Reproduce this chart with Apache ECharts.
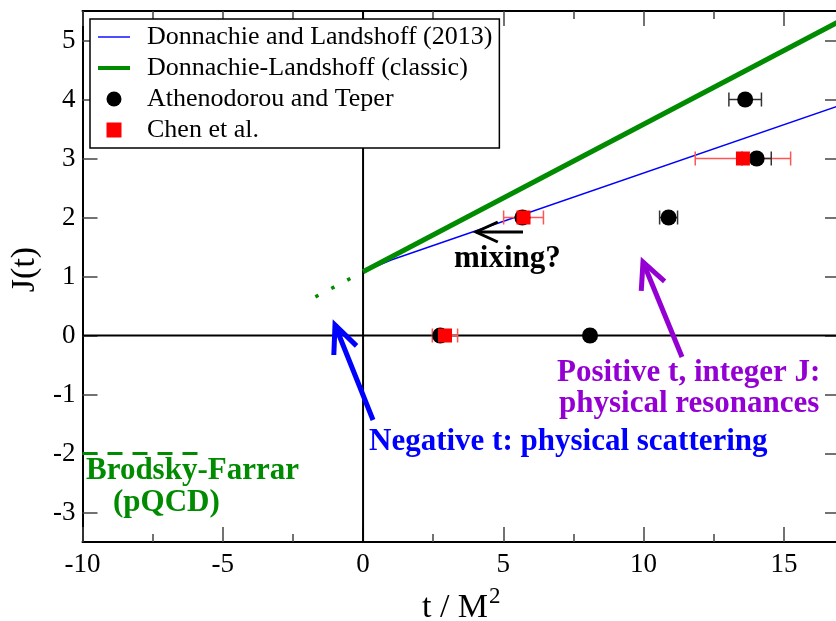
<!DOCTYPE html>
<html>
<head>
<meta charset="utf-8">
<script src="https://cdn.jsdelivr.net/npm/echarts@6/dist/echarts.min.js"></script>
<style>
  html, body { margin: 0; padding: 0; background: #fff; }
  #main { width: 836px; height: 621px; }
</style>
</head>
<body>
<div id="main"></div>
<script>
// axis ticks
const xMajor = [-10, -5, 0, 5, 10, 15];
const xMinor = [-7.5, -2.5, 2.5, 7.5, 12.5];
const yMajor = [-3, -2, -1, 0, 1, 2, 3, 4, 5];

// Donnachie and Landshoff (2013)
const tDL2013 = [0, 1, 17];
const jDL2013 = [1.08, 1.28, 3.9];
// Donnachie-Landshoff (classic) and its extension to t < 0
const tDLclassic = [0, 17];
const jDLclassic = [1.08, 5.33];
const tDLext = [-1.7, 0];
const jDLext = [0.655, 1.08];
// Brodsky-Farrar pQCD
const tBF = [-10, -5.9];
const jBF = [-2, -2];

// Athenodorou and Teper
const tAT = [2.75, 5.68, 8.09, 10.89, 14.03, 13.62];
const jAT = [0, 2, 0, 2, 3, 4];
const eAT = [0.1, 0.1, 0.1, 0.32, 0.52, 0.58];
// Chen et al.
const tChen = [2.92, 5.72, 13.54];
const jChen = [0, 2, 3];
const eChen = [0.45, 0.71, 1.70];

const GREEN = '#008b00';
const FONT = 'Liberation Serif';

const pairs = (xs, ys) => xs.map((x, i) => [x, ys[i]]);
const triples = (xs, ys, es) => xs.map((x, i) => [x, ys[i], es[i]]);

function errorBars(color) {
  return function (params, api) {
    const c = api.coord([api.value(0), api.value(1)]);
    const l = api.coord([api.value(0) - api.value(2), api.value(1)]);
    const r = api.coord([api.value(0) + api.value(2), api.value(1)]);
    const st = { stroke: color, lineWidth: 1.5 };
    return {
      type: 'group',
      children: [
        { type: 'line', shape: { x1: l[0], y1: c[1], x2: r[0], y2: c[1] }, style: st },
        { type: 'line', shape: { x1: l[0], y1: c[1] - 7, x2: l[0], y2: c[1] + 7 }, style: st },
        { type: 'line', shape: { x1: r[0], y1: c[1] - 7, x2: r[0], y2: c[1] + 7 }, style: st }
      ]
    };
  };
}

function arrow(x1, y1, x2, y2, len, half, color, w) {
  const a = Math.atan2(y2 - y1, x2 - x1);
  const h1 = [x2 - len * Math.cos(a - half), y2 - len * Math.sin(a - half)];
  const h2 = [x2 - len * Math.cos(a + half), y2 - len * Math.sin(a + half)];
  return [
    { type: 'line', z: 10, shape: { x1: x1, y1: y1, x2: x2, y2: y2 }, style: { stroke: color, lineWidth: w } },
    { type: 'polyline', z: 10, shape: { points: [h1, [x2, y2], h2] }, style: { stroke: color, lineWidth: w, fill: null } }
  ];
}

function label(text, x, baseline, color, fs) {
  return {
    type: 'text', z: 10, x: x, y: baseline - 0.25 * fs,
    style: { text: text, fill: color, font: 'bold ' + fs + 'px "' + FONT + '"', verticalAlign: 'middle', align: 'left' }
  };
}

const chart = echarts.init(document.getElementById('main'));

const xBase = { type: 'value', min: -10, max: 17, gridIndex: 0, splitLine: { show: false } };
const yBase = { type: 'value', min: -3.5, max: 5.5, gridIndex: 0, splitLine: { show: false } };
const majorTick = { show: true, inside: true, length: 15, lineStyle: { color: '#444', width: 1.5 } };
const minorTick = { show: true, inside: true, length: 8, lineStyle: { color: '#444', width: 1.5 } };
const frame = { show: true, onZero: false, lineStyle: { color: '#000', width: 2 } };
const noLine = { show: false, onZero: false };

const option = {
  animation: false,
  backgroundColor: '#fff',
  grid: { left: 82.5, top: 11, right: -4, bottom: 79, outerBoundsMode: 'none', containLabel: false },
  legend: {
    orient: 'vertical', left: 90, top: 19,
    data: [
      { name: 'Donnachie and Landshoff (2013)', icon: 'path://M0,0H32V1.4H0Z' },
      { name: 'Donnachie-Landshoff (classic)', icon: 'path://M0,0H32V4H0Z' },
      { name: 'Athenodorou and Teper', icon: 'circle' },
      { name: 'Chen et al.', icon: 'path://M0,0H10V10H0Z' }
    ],
    selectedMode: false,
    backgroundColor: '#fff', borderColor: '#000', borderWidth: 1.5,
    padding: [5, 7, 5, 8], itemGap: 5, itemWidth: 32, itemHeight: 15,
    textStyle: { fontFamily: FONT, fontSize: 26, color: '#000', padding: [0, 0, 0, 12] }
  },
  xAxis: [
    Object.assign({}, xBase, {
      position: 'bottom', axisLine: frame,
      axisTick: Object.assign({ customValues: xMajor }, majorTick),
      axisLabel: { customValues: xMajor, fontFamily: FONT, fontSize: 27, color: '#000', margin: 9 },
      name: '{a|t / M}{s|2}', nameLocation: 'middle', nameGap: 43,
      nameTextStyle: { rich: {
        a: { fontFamily: FONT, fontSize: 34, color: '#000' },
        s: { fontFamily: FONT, fontSize: 23, color: '#000', verticalAlign: 'top', padding: [0, 0, 24, 1] }
      } }
    }),
    Object.assign({}, xBase, {
      position: 'bottom', axisLine: noLine,
      axisTick: Object.assign({ customValues: xMinor }, minorTick), axisLabel: { show: false }
    }),
    Object.assign({}, xBase, {
      position: 'top', axisLine: frame,
      axisTick: Object.assign({ customValues: xMajor }, majorTick), axisLabel: { show: false }
    }),
    Object.assign({}, xBase, {
      position: 'top', axisLine: noLine,
      axisTick: Object.assign({ customValues: xMinor }, minorTick), axisLabel: { show: false }
    })
  ],
  yAxis: [
    Object.assign({}, yBase, {
      position: 'left', axisLine: frame,
      axisTick: Object.assign({ customValues: yMajor }, majorTick),
      axisLabel: { customValues: yMajor, fontFamily: FONT, fontSize: 27, color: '#000', margin: 7 },
      name: 'J(t)', nameLocation: 'middle', nameGap: 40, nameRotate: 90,
      nameTextStyle: { fontFamily: FONT, fontSize: 34, color: '#000', padding: [0, 0, 0, 14] }
    }),
    Object.assign({}, yBase, {
      position: 'right', axisLine: frame,
      axisTick: Object.assign({ customValues: yMajor }, majorTick), axisLabel: { show: false }
    })
  ],
  series: [
    {
      name: 'zeroX', type: 'line', silent: true, symbol: 'none', z: 1,
      data: pairs([-10, 17], [0, 0]), lineStyle: { color: '#000', width: 2 }
    },
    {
      name: 'zeroY', type: 'line', silent: true, symbol: 'none', z: 1,
      data: pairs([0, 0], [-3.5, 5.5]), lineStyle: { color: '#000', width: 2 }
    },
    {
      name: 'Donnachie and Landshoff (2013)', type: 'line', symbol: 'none', z: 2,
      data: pairs(tDL2013, jDL2013), lineStyle: { color: '#0000ff', width: 1.4 }, itemStyle: { color: '#0000ff' }
    },
    {
      name: 'Donnachie-Landshoff (classic)', type: 'line', symbol: 'none', z: 3,
      data: pairs(tDLclassic, jDLclassic), lineStyle: { color: GREEN, width: 5 }, itemStyle: { color: GREEN }
    },
    {
      name: 'DL extension', type: 'line', symbol: 'none', z: 3,
      data: pairs(tDLext, jDLext), lineStyle: { color: GREEN, width: 3.5, type: [3.5, 14.5] }
    },
    {
      name: 'Brodsky-Farrar', type: 'line', symbol: 'none', z: 3,
      data: pairs(tBF, jBF), lineStyle: { color: GREEN, width: 3, type: [15, 10] }
    },
    {
      name: 'Chen errors', type: 'custom', z: 4,
      data: triples(tChen, jChen, eChen), renderItem: errorBars('#ff5555')
    },
    {
      name: 'AT errors', type: 'custom', z: 4,
      data: triples(tAT, jAT, eAT), renderItem: errorBars('#333')
    },
    {
      name: 'Athenodorou and Teper', type: 'scatter', symbol: 'circle', symbolSize: 16, z: 5,
      data: pairs(tAT, jAT), itemStyle: { color: '#000', opacity: 1 }
    },
    {
      name: 'Chen et al.', type: 'scatter', symbol: 'rect', symbolSize: 14, z: 6,
      data: pairs(tChen, jChen), itemStyle: { color: '#ff0000', opacity: 1 }
    }
  ],
  graphic: [].concat(
    arrow(523, 232, 476, 232, 24, 0.43, '#000', 3),
    arrow(682, 357, 643, 262, 29, 0.45, '#9400d3', 5),
    arrow(373, 420, 335, 325, 30, 0.42, '#0000ff', 5),
    [
      label('mixing?', 454, 267, '#000', 31),
      label('Positive t, integer J:', 557, 381, '#9400d3', 31),
      label('physical resonances', 559, 412, '#9400d3', 31),
      label('Negative t: physical scattering', 369, 450, '#0000ff', 31),
      label('Brodsky-Farrar', 86, 479, GREEN, 31),
      label('(pQCD)', 113, 511, GREEN, 31)
    ]
  )
};

chart.setOption(option);
</script>
</body>
</html>
